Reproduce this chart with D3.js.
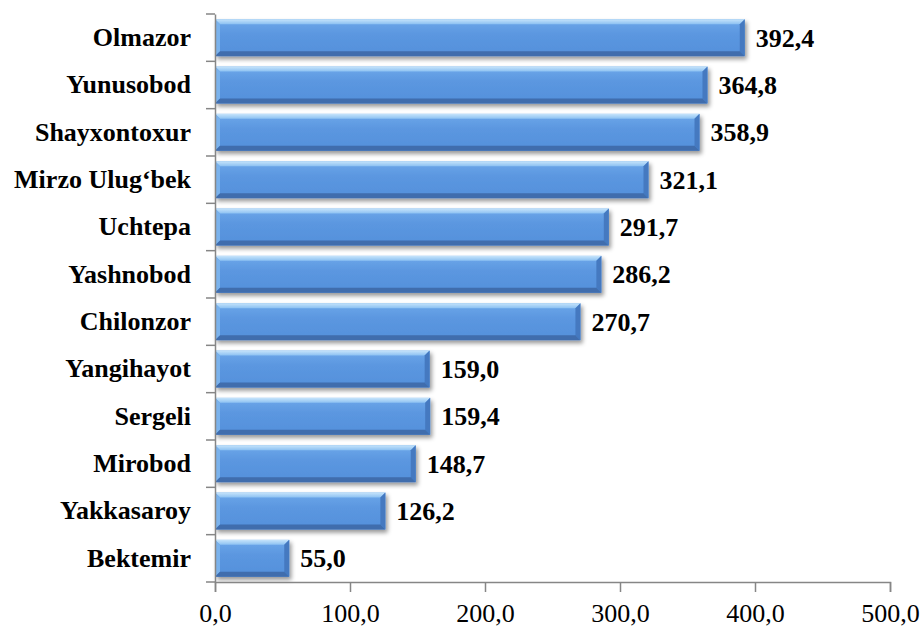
<!DOCTYPE html>
<html>
<head>
<meta charset="utf-8">
<script src="https://cdn.jsdelivr.net/npm/d3@7"></script>
<style>
  body { margin: 0; background: #fff; }
  svg { display: block; }
  svg text { font-family: 'Liberation Serif', 'Times New Roman', 'DejaVu Serif', serif; }
</style>
</head>
<body>
<script>
// districts, top to bottom as drawn
var districts = ['Olmazor', 'Yunusobod', 'Shayxontoxur', 'Mirzo Ulug\u2018bek', 'Uchtepa',
  'Yashnobod', 'Chilonzor', 'Yangihayot', 'Sergeli', 'Mirobod', 'Yakkasaroy', 'Bektemir'];
var values = [392.4, 364.8, 358.9, 321.1, 291.7, 286.2, 270.7, 159.0, 159.4, 148.7, 126.2, 55.0];
var xTicks = [0, 100, 200, 300, 400, 500];

var serif = "'Liberation Serif', 'Times New Roman', 'DejaVu Serif', serif";

var createSvg = function() {
  let width = 921, height = 628;
  let margin = { top: 14, right: 31, bottom: 46, left: 215 };

  let svg = d3.select('body')
    .append('svg')
    .attr('width', width)
    .attr('height', height);

  let x = d3.scaleLinear()
    .domain([0, 500])
    .range([margin.left, width - margin.right]);

  let pad = 0.22;
  let y = d3.scaleBand()
    .domain(districts)
    .range([margin.top, height - margin.bottom])
    .paddingInner(pad)
    .paddingOuter(pad / 2);

  let comma = d3.formatLocale({ decimal: ',', thousands: ' ', grouping: [3], currency: ['', ''] }).format('.1f');

  // gradients + shadow
  let defs = svg.append('defs');
  let face = defs.append('linearGradient').attr('id', 'face')
    .attr('x1', 0).attr('y1', 0).attr('x2', 0).attr('y2', 1);
  face.append('stop').attr('offset', '0%').attr('stop-color', '#6ea8ea');
  face.append('stop').attr('offset', '40%').attr('stop-color', '#5b97e0');
  face.append('stop').attr('offset', '100%').attr('stop-color', '#5590db');

  let topG = defs.append('linearGradient').attr('id', 'topbevel')
    .attr('x1', 0).attr('y1', 0).attr('x2', 0).attr('y2', 1);
  topG.append('stop').attr('offset', '0%').attr('stop-color', '#c6e4fb');
  topG.append('stop').attr('offset', '100%').attr('stop-color', '#8cc1f2');

  let shadow = defs.append('filter').attr('id', 'shadow')
    .attr('x', '-5%').attr('y', '-20%').attr('width', '115%').attr('height', '160%');
  shadow.append('feDropShadow')
    .attr('dx', 2).attr('dy', 3).attr('stdDeviation', 2)
    .attr('flood-color', '#000').attr('flood-opacity', 0.4);

  let b = 5; // bevel size

  let bars = svg.append('g').selectAll('g')
    .data(districts)
    .enter()
    .append('g')
    .attr('filter', 'url(#shadow)');

  bars.append('rect')
    .attr('x', x(0))
    .attr('y', d => y(d))
    .attr('width', (d, i) => x(values[i]) - x(0))
    .attr('height', y.bandwidth())
    .attr('fill', 'url(#face)');

  let poly = function(pts) { return pts.map(p => p.join(',')).join(' '); };
  let corners = function(d, i) {
    return { x0: x(0), x1: x(values[i]), y0: y(d), y1: y(d) + y.bandwidth() };
  };

  // top bevel
  bars.append('polygon')
    .attr('points', (d, i) => { let c = corners(d, i);
      return poly([[c.x0, c.y0], [c.x1, c.y0], [c.x1 - b, c.y0 + b], [c.x0 + b, c.y0 + b]]); })
    .attr('fill', 'url(#topbevel)');
  // left bevel
  bars.append('polygon')
    .attr('points', (d, i) => { let c = corners(d, i);
      return poly([[c.x0, c.y0], [c.x0 + b, c.y0 + b], [c.x0 + b, c.y1 - b], [c.x0, c.y1]]); })
    .attr('fill', '#7ab2ec');
  // right bevel
  bars.append('polygon')
    .attr('points', (d, i) => { let c = corners(d, i);
      return poly([[c.x1, c.y0], [c.x1 - b, c.y0 + b], [c.x1 - b, c.y1 - b], [c.x1, c.y1]]); })
    .attr('fill', '#4479c0');
  // bottom bevel
  bars.append('polygon')
    .attr('points', (d, i) => { let c = corners(d, i);
      return poly([[c.x0, c.y1], [c.x0 + b, c.y1 - b], [c.x1 - b, c.y1 - b], [c.x1, c.y1]]); })
    .attr('fill', '#3f6dad');

  // value labels
  svg.append('g').selectAll('text')
    .data(districts)
    .enter()
    .append('text')
    .attr('x', (d, i) => x(values[i]) + 11)
    .attr('y', d => y(d) + y.bandwidth() / 2)
    .attr('dy', '0.35em')
    .style('font-family', serif)
    .style('font-weight', 'bold')
    .style('font-size', '26px')
    .attr('fill', '#000')
    .text((d, i) => comma(values[i]));

  // y axis
  let yAxis = svg.append('g')
    .attr('transform', 'translate(' + x(0) + ',0)')
    .call(d3.axisLeft(y).tickSize(0).tickPadding(24));
  yAxis.attr('font-family', null);
  yAxis.select('.domain').attr('stroke', '#868686').attr('stroke-width', 1.5);
  yAxis.selectAll('.tick text')
    .style('font-family', serif)
    .style('font-weight', 'bold')
    .style('font-size', '26px')
    .attr('fill', '#000');

  // boundary ticks between bands
  let bounds = districts.map(d => y(d) - y.step() * pad / 2);
  bounds.push(height - margin.bottom);
  yAxis.selectAll('.bound')
    .data(bounds)
    .enter()
    .append('line')
    .attr('class', 'bound')
    .attr('x1', -9).attr('x2', 0)
    .attr('y1', d => d).attr('y2', d => d)
    .attr('stroke', '#868686')
    .attr('stroke-width', 1.5);

  // x axis
  let xAxis = svg.append('g')
    .attr('transform', 'translate(0,' + (height - margin.bottom) + ')')
    .call(d3.axisBottom(x).tickValues(xTicks).tickSize(10).tickFormat(comma));
  xAxis.attr('font-family', null);
  xAxis.select('.domain').attr('stroke', '#868686').attr('stroke-width', 1.5);
  xAxis.selectAll('.tick line').attr('stroke', '#868686').attr('stroke-width', 1.5);
  xAxis.selectAll('.tick text')
    .attr('y', 40)
    .attr('dy', 0)
    .style('font-family', serif)
    .style('font-size', '26px')
    .attr('fill', '#000');
}

var load = function() {
  createSvg();
}

load();
</script>
</body>
</html>
